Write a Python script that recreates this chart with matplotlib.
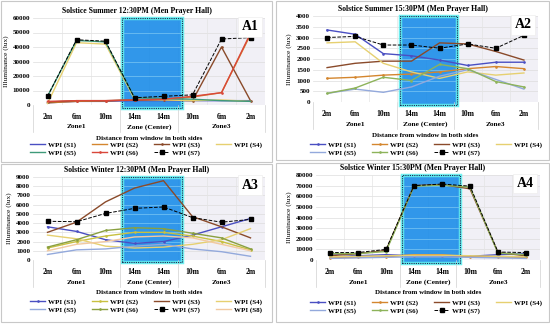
import matplotlib
matplotlib.use('Agg')
import matplotlib.pyplot as plt
from matplotlib.patches import Rectangle

plt.rcParams['font.family'] = ['Liberation Serif', 'DejaVu Serif']
plt.rcParams['font.weight'] = 'bold'

cats = ['2m', '6m', '10m', '14m', '14m', '10m', '6m', '2m']
zones = ['Zone1', 'Zone (Center)', 'Zone3']

# A1 - summer 12:30
a1_s1 = [1500, 2500, 2500, 3000, 3000, 3000, 3000, 3000]
a1_s2 = [1500, 2500, 2800, 3500, 4000, 5500, 8500, 48500]
a1_s3 = [2000, 3000, 3000, 3500, 3500, 3000, 40000, 3000]
a1_s4 = [1000, 43000, 42000, 4000, 3500, 3000, 3500, 2500]
a1_s5 = [6000, 44500, 43500, 5000, 4500, 4000, 3000, 2500]
a1_s6 = [2500, 3000, 3000, 3500, 4000, 6000, 8500, 49500]
a1_s7 = [6000, 45000, 44000, 5000, 6000, 7000, 45500, 46500]

# A2 - summer 15:30
a2_s1 = [3350, 3150, 2250, 2150, 1950, 1700, 1850, 1850]
a2_s2 = [1100, 1150, 1250, 1300, 1400, 1550, 1650, 1550]
a2_s3 = [1600, 1800, 1900, 1900, 2750, 2700, 2350, 1950]
a2_s4 = [2750, 2800, 1800, 1400, 1100, 1400, 1250, 1350]
a2_s5 = [400, 600, 450, 700, 1200, 1500, 1050, 600]
a2_s6 = [400, 650, 1150, 1000, 1750, 1550, 950, 700]
a2_s7 = [3000, 3050, 2650, 2650, 2500, 2700, 2500, 3100]

# A3 - winter 12:30
a3_s1 = [3600, 3100, 2200, 1800, 2000, 2700, 3600, 4500]
a3_s2 = [1300, 2000, 2600, 3000, 3000, 2600, 2000, 1100]
a3_s3 = [3000, 4100, 6300, 7800, 8600, 4700, 3600, 2400]
a3_s4 = [2700, 2300, 1500, 1300, 1400, 1700, 2200, 3400]
a3_s5 = [600, 1100, 1200, 1500, 1700, 1200, 900, 400]
a3_s6 = [1400, 2200, 3200, 3500, 3400, 2900, 2400, 1200]
a3_s7 = [4200, 4150, 5050, 5600, 5750, 4600, 4100, 4400]
a3_s8 = [1000, 1700, 2000, 2500, 2600, 2400, 1700, 1000]

# A4 - winter 15:30
a4_s1 = [6000, 4000, 5000, 4000, 4000, 3500, 5000, 6000]
a4_s2 = [2000, 2500, 3000, 5000, 5000, 3000, 3000, 2500]
a4_s3 = [4000, 6000, 9000, 70000, 71000, 67000, 7000, 4000]
a4_s4 = [3000, 3500, 4000, 4500, 4500, 4000, 3500, 3000]
a4_s5 = [1500, 2000, 2500, 3000, 3000, 2500, 2000, 1500]
a4_s6 = [6000, 6000, 8000, 69500, 70500, 68500, 6500, 5000]
a4_s7 = [7000, 7000, 10000, 70000, 71500, 69500, 7500, 7000]

W, H = 550, 324
fig = plt.figure(figsize=(5.5, 3.24), dpi=100)

blue = '#4a4fc2'
orange = '#d4862e'
brown = '#8a4a2a'
yellow = '#e6d070'
lblue = '#93a9dc'
green = '#8db35a'
teal = '#3f9a7a'
red = '#d9473a'
peach = '#f2c9a0'


def axes_px(x0, y0, x1, y1):
    return fig.add_axes([x0 / W, 1 - y1 / H, (x1 - x0) / W, (y1 - y0) / H])


def panel(box, title, tag, ymax, ystep, series, leg_xy, frame):
    x0, y0, x1, y1 = box
    ax = axes_px(x0, y0, x1, y1)
    hpx = y1 - y0
    fx0, fy0, fx1, fy1 = frame
    fig.add_artist(Rectangle((fx0 / W, 1 - fy1 / H), (fx1 - fx0) / W, (fy1 - fy0) / H,
                             transform=fig.transFigure, fill=False, ec='#c8c8c8', lw=0.8))
    x = list(range(len(cats)))
    ax.set_xlim(-0.5, 7.5)
    ax.set_ylim(0, ymax)
    ax.set_yticks(range(0, ymax + 1, ystep))
    ax.tick_params(axis='y', labelsize=5, length=0, pad=2)
    ax.set_xticks(x)
    ax.set_xticklabels(cats, fontsize=5.5)
    ax.tick_params(axis='x', length=0, pad=6)
    for s in ax.spines.values():
        s.set_visible(False)
    for yv in range(ystep, ymax + 1, ystep):
        ax.axhline(yv, color='#dddddd', lw=0.5, zorder=0)
    for xv in [0.5, 1.5, 2.5, 3.5, 4.5, 5.5, 6.5, 7.5]:
        ax.axvline(xv, color='#e4e4e4', lw=0.5, zorder=0)
    ax.axhline(0, color='#cfcfcf', lw=0.6, zorder=0)
    ax.axvspan(4.63, 7.5, color='#f1f0f6', zorder=-1, lw=0)
    rect_y = -0.03
    ax.add_patch(Rectangle((2.58, rect_y), 2.05, 1 - rect_y, transform=ax.get_xaxis_transform(),
                           fc='#1a8ce8', ec='#62f0f0', lw=2.5, alpha=0.9, zorder=2, clip_on=False))
    ax.hlines(range(ystep, ymax, ystep), 2.62, 4.59, color='#7cc8f5', lw=0.5, zorder=2.05)
    ax.add_patch(Rectangle((2.58, rect_y), 2.05, 1 - rect_y, transform=ax.get_xaxis_transform(),
                           fill=False, ec='#1a2a50', lw=0.8, ls=(0, (1, 1)), zorder=2.1, clip_on=False))
    handles = []
    for label, vals, col, mk, ls in series:
        h, = ax.plot(x, vals, color=col, lw=1.0 if mk != 's' else 0.7, ls=ls, marker=mk,
                     ms=3 if mk == 's' else 1.8, zorder=3, label=label)
        handles.append(h)
    ax.set_ylabel('Illuminance (lux)', fontsize=5.3, labelpad=3)
    # multi-level category separators and zone labels
    tr = ax.get_xaxis_transform()
    for xv in [-0.5, 2.5, 4.5, 7.5]:
        ax.plot([xv, xv], [0, -27 / hpx], transform=tr, color='#d0d0d0', lw=0.5, clip_on=False)
    for zx, zl in zip([1, 3.5, 6], zones):
        ax.text(zx, -22 / hpx, zl, transform=tr, ha='center', va='center', fontsize=5.3)
    ax.text(0.5, -33 / hpx, 'Distance from window in both sides', transform=ax.transAxes,
            ha='center', va='center', fontsize=5)
    fig.text((fx0 + fx1) / 2 / W, 1 - (y0 - 7) / H, title, ha='center', va='center', fontsize=5.6)
    ax.text(0.935, 0.9, tag, transform=ax.transAxes, ha='center', va='center', fontsize=10,
            bbox=dict(fc='white', ec='#eeeeee', lw=0.5, pad=2.5), zorder=5)
    # row-major order for a 4-column, 2-row legend
    order = [0, 4, 1, 5, 2, 6, 3] + ([7] if len(handles) > 7 else [])
    hs = [handles[i] for i in order]
    fig.legend(hs, [h.get_label() for h in hs], loc='upper left', ncol=4, fontsize=5,
               bbox_to_anchor=(leg_xy[0] / W, 1 - leg_xy[1] / H), frameon=False,
               handlelength=2.2, handletextpad=0.4, columnspacing=2.3, labelspacing=0.25,
               borderpad=0, borderaxespad=0)
    return ax


panel((33, 18, 265, 105), 'Solstice Summer 12:30PM (Men Prayer Hall)', 'A1', 60000, 10000, [
    ('WPI (S1)', a1_s1, blue, None, '-'),
    ('WPI (S2)', a1_s2, orange, None, '-'),
    ('WPI (S3)', a1_s3, brown, '.', '-'),
    ('WPI (S4)', a1_s4, yellow, None, '-'),
    ('WPI (S5)', a1_s5, teal, None, '-'),
    ('WPI (S6)', a1_s6, red, '.', '-'),
    ('WPI (S7)', a1_s7, 'black', 's', '--'),
], (30, 142), (1, 1, 272, 162))

panel((313, 16, 538, 102), 'Solstice Summer 15:30PM (Men Prayer Hall)', 'A2', 4000, 500, [
    ('WPI (S1)', a2_s1, blue, '.', '-'),
    ('WPI (S2)', a2_s2, orange, '.', '-'),
    ('WPI (S3)', a2_s3, brown, None, '-'),
    ('WPI (S4)', a2_s4, yellow, None, '-'),
    ('WPI (S5)', a2_s5, lblue, None, '-'),
    ('WPI (S6)', a2_s6, green, '.', '-'),
    ('WPI (S7)', a2_s7, 'black', 's', '--'),
], (310, 142), (276, 1, 549, 160))

panel((33, 177, 265, 260), 'Solstice Winter 12:30PM (Men Prayer Hall)', 'A3', 9000, 1000, [
    ('WPI (S1)', a3_s1, blue, '.', '-'),
    ('WPI (S2)', a3_s2, '#c8c040', '.', '-'),
    ('WPI (S3)', a3_s3, brown, None, '-'),
    ('WPI (S4)', a3_s4, yellow, None, '-'),
    ('WPI (S5)', a3_s5, lblue, None, '-'),
    ('WPI (S6)', a3_s6, '#8aa040', '.', '-'),
    ('WPI (S7)', a3_s7, 'black', 's', '--'),
    ('WPI (S8)', a3_s8, peach, None, '-'),
], (30, 299), (1, 164, 272, 322))

panel((316, 175, 540, 260), 'Solstice Winter 15:30PM (Men Prayer Hall)', 'A4', 80000, 10000, [
    ('WPI (S1)', a4_s1, blue, '.', '-'),
    ('WPI (S2)', a4_s2, orange, '.', '-'),
    ('WPI (S3)', a4_s3, brown, None, '-'),
    ('WPI (S4)', a4_s4, yellow, None, '-'),
    ('WPI (S5)', a4_s5, lblue, None, '-'),
    ('WPI (S6)', a4_s6, green, '.', '-'),
    ('WPI (S7)', a4_s7, 'black', 's', '--'),
], (310, 300), (276, 163, 549, 322))

fig.savefig('out.png', dpi=100)
